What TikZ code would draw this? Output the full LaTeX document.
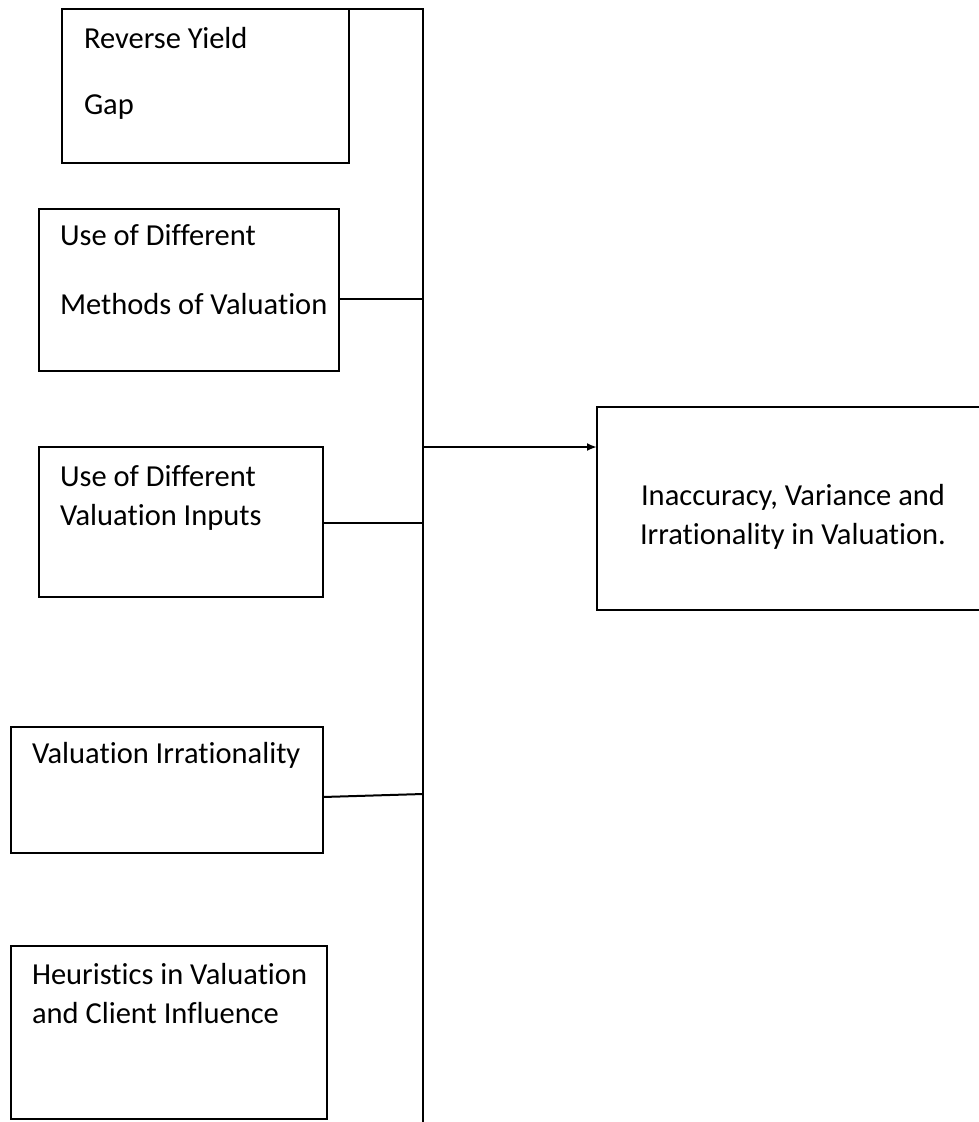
\documentclass[tikz,border=0pt]{standalone}
\usepackage{fontspec}
\setmainfont[Ligatures=NoCommon]{Carlito}
\usetikzlibrary{arrows.meta}
\begin{document}
\begin{tikzpicture}[x=1pt,y=-1pt,
  box/.style={draw=black,line width=2pt,inner sep=0pt,outer sep=0pt,anchor=north west},
  txt/.style={inner sep=0pt,outer sep=0pt,anchor=base west,font=\fontsize{30.5}{36}\selectfont},
  ctxt/.style={inner sep=0pt,outer sep=0pt,anchor=base,font=\fontsize{30.5}{36}\selectfont},
  conn/.style={draw=black,line width=2pt},
  arrowline/.style={draw=black,line width=2pt,-{Latex[length=10pt,width=8pt]}}]
\useasboundingbox (0,0) rectangle (978,1122);
% boxes
\node[box,minimum width=287pt,minimum height=154pt] (b1) at (62,9) {};
\node[box,minimum width=300pt,minimum height=162pt] (b2) at (39,209) {};
\node[box,minimum width=284pt,minimum height=150pt] (b3) at (39,447) {};
\node[box,minimum width=312pt,minimum height=126pt] (b4) at (11,727) {};
\node[box,minimum width=316pt,minimum height=173pt] (b5) at (11,946) {};
\node[box,minimum width=390pt,minimum height=203pt] (res) at (597,407) {};
% texts
\node[txt] (t1a) at (84,48) {Reverse Yield};
\node[txt] (t1b) at (84,114) {Gap};
\node[txt] (t2a) at (60,245) {Use of Different};
\node[txt] (t2b) at (60,314) {Methods of Valuation};
\node[txt] (t3a) at (60,486) {Use of Different};
\node[txt] (t3b) at (60,525) {Valuation Inputs};
\node[txt] (t4a) at (32,763) {Valuation Irrationality};
\node[txt] (t5a) at (32,984) {Heuristics in Valuation};
\node[txt] (t5b) at (32,1023) {and Client Influence};
\node[ctxt] (r1) at (793,505) {Inaccuracy, Variance and};
\node[ctxt] (r2) at (793,544) {Irrationality in Valuation.};
% trunk
\coordinate (vtop) at (423,9);
\coordinate (vbot) at (423,1124);
\coordinate (c2) at (423,299);
\coordinate (c3) at (423,523);
\coordinate (c4) at (423,794);
\coordinate (c0) at (423,447);
\draw[conn] (b1.north east) -- (vtop) -- (vbot);
\draw[conn] (b2.east |- c2) -- (c2);
\draw[conn] (b3.east |- c3) -- (c3);
\draw[conn] ([yshift=-7pt]b4.east) -- (c4);
\draw[arrowline] (c0) -- (res.west |- c0);
\end{tikzpicture}
\end{document}
